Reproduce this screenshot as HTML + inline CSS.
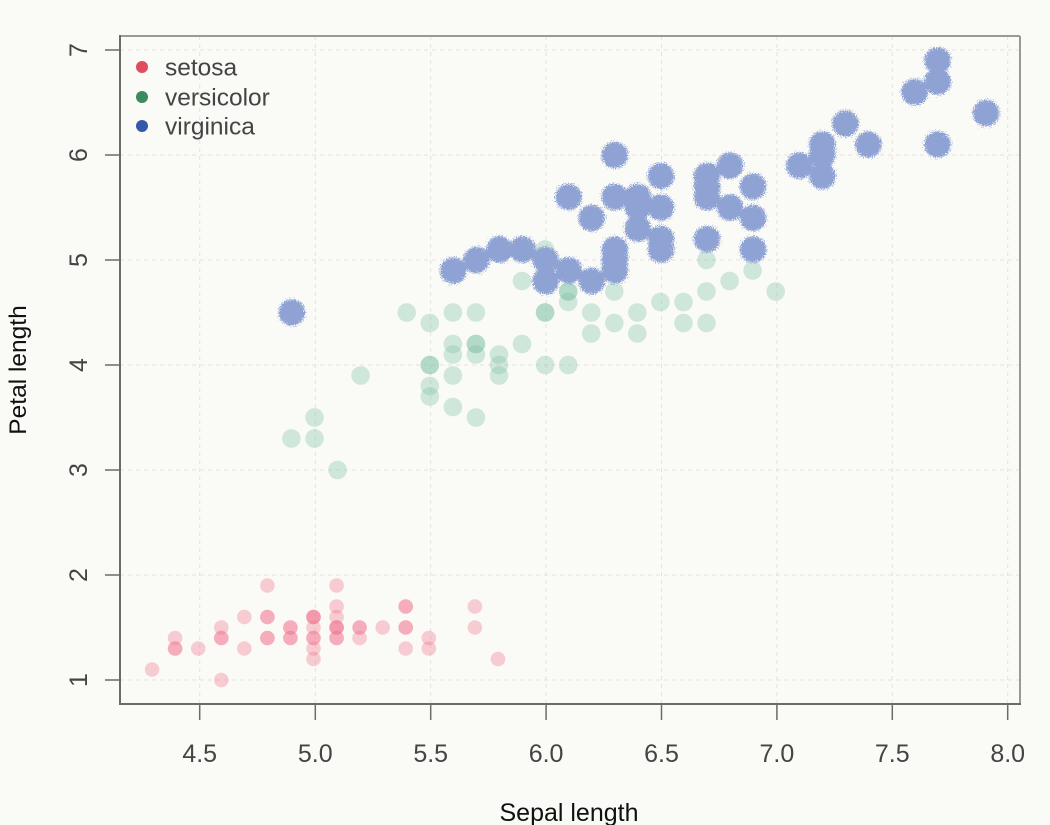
<!DOCTYPE html>
<html><head><meta charset="utf-8"><style>
html,body{margin:0;padding:0;background:#fafaf6;}
svg{display:block;}
text{font-family:"Liberation Sans",Arial,sans-serif;}
</style></head><body>
<svg width="1050" height="825" viewBox="0 0 1050 825" xmlns="http://www.w3.org/2000/svg">
<defs>
<filter id="fz" x="-10%" y="-10%" width="120%" height="120%">
<feTurbulence type="fractalNoise" baseFrequency="1.1" numOctaves="1" seed="3" result="n"/>
<feDisplacementMap in="SourceGraphic" in2="n" scale="11" xChannelSelector="R" yChannelSelector="G"/>
</filter>
</defs>
<rect width="1050" height="825" fill="#fafaf6"/>
<!-- grid -->
<g stroke="#e7e2dc" stroke-width="1" stroke-dasharray="4 4">
<line x1="199.7" y1="36" x2="199.7" y2="704"/>
<line x1="315.3" y1="36" x2="315.3" y2="704"/>
<line x1="430.7" y1="36" x2="430.7" y2="704"/>
<line x1="546.1" y1="36" x2="546.1" y2="704"/>
<line x1="661.5" y1="36" x2="661.5" y2="704"/>
<line x1="776.9" y1="36" x2="776.9" y2="704"/>
<line x1="892.3" y1="36" x2="892.3" y2="704"/>
<line x1="1007.7" y1="36" x2="1007.7" y2="704"/>
<line x1="120" y1="680" x2="1020" y2="680"/>
<line x1="120" y1="575" x2="1020" y2="575"/>
<line x1="120" y1="470" x2="1020" y2="470"/>
<line x1="120" y1="365" x2="1020" y2="365"/>
<line x1="120" y1="260" x2="1020" y2="260"/>
<line x1="120" y1="155" x2="1020" y2="155"/>
<line x1="120" y1="50" x2="1020" y2="50"/>
</g>
<!-- setosa -->
<g fill="rgb(242,120,148)" fill-opacity="0.36" transform="translate(-2.5,0)">
<circle cx="339.1" cy="638" r="7.3"/><circle cx="292.9" cy="638" r="7.3"/><circle cx="246.8" cy="648.5" r="7.3"/><circle cx="223.8" cy="627.5" r="7.3"/><circle cx="316" cy="638" r="7.3"/>
<circle cx="408.2" cy="606.5" r="7.3"/><circle cx="223.8" cy="638" r="7.3"/><circle cx="316" cy="627.5" r="7.3"/><circle cx="177.6" cy="638" r="7.3"/><circle cx="292.9" cy="627.5" r="7.3"/>
<circle cx="408.2" cy="627.5" r="7.3"/><circle cx="269.9" cy="617" r="7.3"/><circle cx="269.9" cy="638" r="7.3"/><circle cx="154.6" cy="669.5" r="7.3"/><circle cx="500.5" cy="659" r="7.3"/>
<circle cx="477.4" cy="627.5" r="7.3"/><circle cx="408.2" cy="648.5" r="7.3"/><circle cx="339.1" cy="638" r="7.3"/><circle cx="477.4" cy="606.5" r="7.3"/><circle cx="339.1" cy="627.5" r="7.3"/>
<circle cx="408.2" cy="606.5" r="7.3"/><circle cx="339.1" cy="627.5" r="7.3"/><circle cx="223.8" cy="680" r="7.3"/><circle cx="339.1" cy="606.5" r="7.3"/><circle cx="269.9" cy="585.5" r="7.3"/>
<circle cx="316" cy="617" r="7.3"/><circle cx="316" cy="617" r="7.3"/><circle cx="362.1" cy="627.5" r="7.3"/><circle cx="362.1" cy="638" r="7.3"/><circle cx="246.8" cy="617" r="7.3"/>
<circle cx="269.9" cy="617" r="7.3"/><circle cx="408.2" cy="627.5" r="7.3"/><circle cx="362.1" cy="627.5" r="7.3"/><circle cx="431.3" cy="638" r="7.3"/><circle cx="292.9" cy="627.5" r="7.3"/>
<circle cx="316" cy="659" r="7.3"/><circle cx="431.3" cy="648.5" r="7.3"/><circle cx="292.9" cy="638" r="7.3"/><circle cx="177.6" cy="648.5" r="7.3"/><circle cx="339.1" cy="627.5" r="7.3"/>
<circle cx="316" cy="648.5" r="7.3"/><circle cx="200.7" cy="648.5" r="7.3"/><circle cx="177.6" cy="648.5" r="7.3"/><circle cx="316" cy="617" r="7.3"/><circle cx="339.1" cy="585.5" r="7.3"/>
<circle cx="269.9" cy="638" r="7.3"/><circle cx="339.1" cy="617" r="7.3"/><circle cx="223.8" cy="638" r="7.3"/><circle cx="385.2" cy="627.5" r="7.3"/><circle cx="316" cy="638" r="7.3"/>
</g>
<!-- versicolor -->
<g fill="rgb(120,190,160)" fill-opacity="0.33" transform="translate(-1.5,0)">
<circle cx="777.2" cy="291.5" r="9.3"/><circle cx="638.8" cy="312.5" r="9.3"/><circle cx="754.1" cy="270.5" r="9.3"/><circle cx="431.3" cy="365" r="9.3"/><circle cx="661.9" cy="302" r="9.3"/>
<circle cx="477.4" cy="312.5" r="9.3"/><circle cx="615.8" cy="291.5" r="9.3"/><circle cx="292.9" cy="438.5" r="9.3"/><circle cx="685" cy="302" r="9.3"/><circle cx="362.1" cy="375.5" r="9.3"/>
<circle cx="316" cy="417.5" r="9.3"/><circle cx="523.5" cy="344" r="9.3"/><circle cx="546.6" cy="365" r="9.3"/><circle cx="569.7" cy="291.5" r="9.3"/><circle cx="454.4" cy="407" r="9.3"/>
<circle cx="708" cy="323" r="9.3"/><circle cx="454.4" cy="312.5" r="9.3"/><circle cx="500.5" cy="354.5" r="9.3"/><circle cx="592.7" cy="312.5" r="9.3"/><circle cx="454.4" cy="375.5" r="9.3"/>
<circle cx="523.5" cy="281" r="9.3"/><circle cx="569.7" cy="365" r="9.3"/><circle cx="615.8" cy="270.5" r="9.3"/><circle cx="569.7" cy="291.5" r="9.3"/><circle cx="638.8" cy="333.5" r="9.3"/>
<circle cx="685" cy="323" r="9.3"/><circle cx="731.1" cy="281" r="9.3"/><circle cx="708" cy="260" r="9.3"/><circle cx="546.6" cy="312.5" r="9.3"/><circle cx="477.4" cy="417.5" r="9.3"/>
<circle cx="431.3" cy="386" r="9.3"/><circle cx="431.3" cy="396.5" r="9.3"/><circle cx="500.5" cy="375.5" r="9.3"/><circle cx="546.6" cy="249.5" r="9.3"/><circle cx="408.2" cy="312.5" r="9.3"/>
<circle cx="546.6" cy="312.5" r="9.3"/><circle cx="708" cy="291.5" r="9.3"/><circle cx="615.8" cy="323" r="9.3"/><circle cx="454.4" cy="354.5" r="9.3"/><circle cx="431.3" cy="365" r="9.3"/>
<circle cx="431.3" cy="323" r="9.3"/><circle cx="569.7" cy="302" r="9.3"/><circle cx="500.5" cy="365" r="9.3"/><circle cx="316" cy="438.5" r="9.3"/><circle cx="454.4" cy="344" r="9.3"/>
<circle cx="477.4" cy="344" r="9.3"/><circle cx="477.4" cy="344" r="9.3"/><circle cx="592.7" cy="333.5" r="9.3"/><circle cx="339.1" cy="470" r="9.3"/><circle cx="477.4" cy="354.5" r="9.3"/>
</g>
<!-- virginica -->
<g style="fill:#8ea2d4" filter="url(#fz)">
<g transform="translate(-1,0)">
<circle cx="615.8" cy="155" r="13.3"/><circle cx="500.5" cy="249.5" r="13.3"/><circle cx="800.3" cy="165.5" r="13.3"/><circle cx="615.8" cy="197" r="13.3"/><circle cx="661.9" cy="176" r="13.3"/>
<circle cx="915.6" cy="92" r="13.3"/><circle cx="292.9" cy="312.5" r="13.3"/><circle cx="846.4" cy="123.5" r="13.3"/><circle cx="708" cy="176" r="13.3"/><circle cx="823.3" cy="144.5" r="13.3"/>
<circle cx="661.9" cy="249.5" r="13.3"/><circle cx="638.8" cy="228.5" r="13.3"/><circle cx="731.1" cy="207.5" r="13.3"/><circle cx="477.4" cy="260" r="13.3"/><circle cx="500.5" cy="249.5" r="13.3"/>
<circle cx="638.8" cy="228.5" r="13.3"/><circle cx="661.9" cy="207.5" r="13.3"/><circle cx="938.6" cy="81.5" r="13.3"/><circle cx="938.6" cy="60.5" r="13.3"/><circle cx="546.6" cy="260" r="13.3"/>
<circle cx="754.1" cy="186.5" r="13.3"/><circle cx="454.4" cy="270.5" r="13.3"/><circle cx="938.6" cy="81.5" r="13.3"/><circle cx="615.8" cy="270.5" r="13.3"/><circle cx="708" cy="186.5" r="13.3"/>
<circle cx="823.3" cy="155" r="13.3"/><circle cx="592.7" cy="281" r="13.3"/><circle cx="569.7" cy="270.5" r="13.3"/><circle cx="638.8" cy="197" r="13.3"/><circle cx="823.3" cy="176" r="13.3"/>
<circle cx="869.4" cy="144.5" r="13.3"/><circle cx="987" cy="113" r="13.3"/><circle cx="638.8" cy="197" r="13.3"/><circle cx="615.8" cy="249.5" r="13.3"/><circle cx="569.7" cy="197" r="13.3"/>
<circle cx="938.6" cy="144.5" r="13.3"/><circle cx="615.8" cy="197" r="13.3"/><circle cx="638.8" cy="207.5" r="13.3"/><circle cx="546.6" cy="281" r="13.3"/><circle cx="754.1" cy="218" r="13.3"/>
<circle cx="708" cy="197" r="13.3"/><circle cx="754.1" cy="249.5" r="13.3"/><circle cx="500.5" cy="249.5" r="13.3"/><circle cx="731.1" cy="165.5" r="13.3"/><circle cx="708" cy="186.5" r="13.3"/>
<circle cx="708" cy="239" r="13.3"/><circle cx="615.8" cy="260" r="13.3"/><circle cx="661.9" cy="239" r="13.3"/><circle cx="592.7" cy="218" r="13.3"/><circle cx="523.5" cy="249.5" r="13.3"/>
</g>
</g>
<!-- box -->
<line x1="120" y1="36" x2="1020" y2="36" stroke="#9a9a95" stroke-width="2"/>
<line x1="1020" y1="36" x2="1020" y2="704" stroke="#9a9a95" stroke-width="2"/>
<line x1="120" y1="35" x2="120" y2="705" stroke="#6e6a66" stroke-width="2"/>
<line x1="119" y1="704" x2="1021" y2="704" stroke="#6e6a66" stroke-width="2"/>
<!-- ticks -->
<g stroke="#6e6a66" stroke-width="1.5">
<line x1="105" y1="680" x2="120" y2="680"/><line x1="105" y1="575" x2="120" y2="575"/><line x1="105" y1="470" x2="120" y2="470"/>
<line x1="105" y1="365" x2="120" y2="365"/><line x1="105" y1="260" x2="120" y2="260"/><line x1="105" y1="155" x2="120" y2="155"/><line x1="105" y1="50" x2="120" y2="50"/>
<line x1="199.7" y1="704" x2="199.7" y2="720"/><line x1="315.3" y1="704" x2="315.3" y2="720"/><line x1="430.7" y1="704" x2="430.7" y2="720"/><line x1="546.1" y1="704" x2="546.1" y2="720"/>
<line x1="661.5" y1="704" x2="661.5" y2="720"/><line x1="776.9" y1="704" x2="776.9" y2="720"/><line x1="892.3" y1="704" x2="892.3" y2="720"/><line x1="1007.7" y1="704" x2="1007.7" y2="720"/>
</g>
<!-- x tick labels -->
<g fill="#444" font-size="25" text-anchor="middle">
<text x="199.7" y="762">4.5</text><text x="315.3" y="762">5.0</text><text x="430.7" y="762">5.5</text><text x="546.1" y="762">6.0</text>
<text x="661.5" y="762">6.5</text><text x="776.9" y="762">7.0</text><text x="892.3" y="762">7.5</text><text x="1007.7" y="762">8.0</text>
</g>
<!-- y tick labels -->
<g fill="#444" font-size="25" text-anchor="middle">
<text transform="translate(87,680) rotate(-90)">1</text>
<text transform="translate(87,575) rotate(-90)">2</text>
<text transform="translate(87,470) rotate(-90)">3</text>
<text transform="translate(87,365) rotate(-90)">4</text>
<text transform="translate(87,260) rotate(-90)">5</text>
<text transform="translate(87,155) rotate(-90)">6</text>
<text transform="translate(87,50) rotate(-90)">7</text>
</g>
<!-- axis titles -->
<text x="569" y="821" font-size="25" fill="#111" text-anchor="middle">Sepal length</text>
<text transform="translate(26,370) rotate(-90)" font-size="24.5" fill="#111" text-anchor="middle">Petal length</text>
<!-- legend -->
<circle cx="142" cy="67" r="6" fill="#df4d60"/>
<circle cx="142" cy="97" r="6" fill="#3a8b60"/>
<circle cx="142" cy="126" r="6" fill="#3459a8"/>
<g fill="#444" font-size="24.5">
<text x="165" y="75.5">setosa</text>
<text x="165" y="105.5">versicolor</text>
<text x="165" y="134.5">virginica</text>
</g>
</svg>
</body></html>
